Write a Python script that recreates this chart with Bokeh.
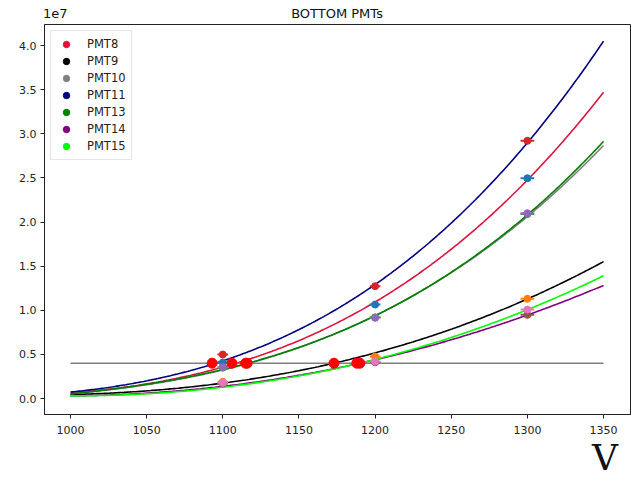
import numpy as np
from bokeh.plotting import figure
from bokeh.models import (Legend, LegendItem, FixedTicker, Range1d, LinearAxis,
                          PrintfTickFormatter)
from bokeh.embed import file_html
from bokeh.resources import INLINE

# ---------------- data (gain in units of 1e7) ----------------
pmt_names = ["PMT8", "PMT9", "PMT10", "PMT11", "PMT13", "PMT14", "PMT15"]
curve_colors = ["crimson", "black", "gray", "navy", "green", "purple", "lime"]
point_colors = ["#1f77b4", "#ff7f0e", "#2ca02c", "#d62728", "#9467bd", "#8c564b", "#e377c2"]

# measured points (errorbars)
meas_voltage = [1100, 1200, 1300]
meas_xerr = [3.5, 3.5, 4.5]
meas_pmt8 = [0.408, 1.065, 2.496]
meas_pmt9 = [0.190, 0.476, 1.130]
meas_pmt10 = [0.350, 0.920, 2.090]
meas_pmt11 = [0.499, 1.273, 2.920]
meas_pmt13 = [0.355, 0.914, 2.100]
meas_pmt14 = [0.170, 0.410, 0.948]
meas_pmt15 = [0.178, 0.419, 1.008]

# fitted gain curves, read at these voltages
fit_voltage = [1000, 1100, 1200, 1300, 1350]
fit_pmt8 = [0.06, 0.37, 1.07, 2.50, 3.46]
fit_pmt9 = [0.045, 0.176, 0.515, 1.13, 1.55]
fit_pmt10 = [0.05, 0.34, 0.91, 2.09, 2.855]
fit_pmt11 = [0.07, 0.44, 1.27, 2.92, 4.04]
fit_pmt13 = [0.05, 0.34, 0.92, 2.10, 2.905]
fit_pmt14 = [0.03, 0.14, 0.435, 0.95, 1.28]
fit_pmt15 = [0.03, 0.13, 0.44, 1.01, 1.39]

# target gain (4e6) and operating voltages where each curve reaches it
target_gain = 0.4
crossing_voltage = [1106, 1173, 1116, 1093, 1115, 1190, 1188]

x_ticks = [1000, 1050, 1100, 1150, 1200, 1250, 1300, 1350]
y_ticks = [0.0, 0.5, 1.0, 1.5, 2.0, 2.5, 3.0, 3.5, 4.0]
title_text = "BOTTOM PMTs"
scale_text = "1e7"
xlabel_text = "V"

meas_all = [meas_pmt8, meas_pmt9, meas_pmt10, meas_pmt11, meas_pmt13, meas_pmt14, meas_pmt15]
fit_all = [fit_pmt8, fit_pmt9, fit_pmt10, fit_pmt11, fit_pmt13, fit_pmt14, fit_pmt15]

# ---------------- figure ----------------
p = figure(width=631, height=480, output_backend="svg", toolbar_location=None,
           x_range=Range1d(982.93, 1367.7), y_range=Range1d(-0.181, 4.238),
           min_border_left=44, min_border_right=1, min_border_top=24,
           min_border_bottom=66)
p.background_fill_color = "white"
p.border_fill_color = "white"
p.grid.visible = False
p.outline_line_color = "#222222"
p.outline_line_width = 1

for ax in (p.xaxis[0], p.yaxis[0]):
    ax.axis_line_color = "#222222"
    ax.major_tick_line_color = "#222222"
    ax.major_tick_out = 4
    ax.major_tick_in = 0
    ax.minor_tick_line_color = None
    ax.major_label_text_font = "DejaVu Sans"
    ax.major_label_text_font_size = "11px"
    ax.major_label_text_color = "#222222"
p.xaxis.ticker = FixedTicker(ticks=x_ticks)
p.yaxis.ticker = FixedTicker(ticks=y_ticks)
p.yaxis.formatter = PrintfTickFormatter(format="%.1f")
p.xaxis.major_label_standoff = 7
p.yaxis.major_label_standoff = 4

# title row: scale factor and title as labels of a bare axis above the frame
top_axis = LinearAxis(ticker=FixedTicker(ticks=[990, 1175]),
                      major_label_overrides={990: scale_text, 1175: title_text},
                      axis_line_color=None, major_tick_line_color=None,
                      minor_tick_line_color=None, major_tick_out=0, major_tick_in=0,
                      major_label_standoff=4, major_label_text_font="DejaVu Sans",
                      major_label_text_font_size="13px", major_label_text_color="#111111")
p.add_layout(top_axis, "above")

# big "V" label below the x tick labels, at the right
v_axis = LinearAxis(ticker=FixedTicker(ticks=[1351]),
                    major_label_overrides={1351: xlabel_text},
                    axis_line_color=None, major_tick_line_color=None,
                    minor_tick_line_color=None, major_tick_out=0, major_tick_in=0,
                    major_label_standoff=0, major_label_text_font="DejaVu Serif",
                    major_label_text_font_size="36px", major_label_text_color="#111111")
p.add_layout(v_axis, "below")

# fitted curves
fv = np.array(fit_voltage, dtype=float)
vv = np.linspace(fit_voltage[0], fit_voltage[-1], 300)
for g, c in zip(fit_all, curve_colors):
    coef = np.polyfit((fv - 1000.0) / 100.0, np.array(g), 3)
    p.line(vv, np.polyval(coef, (vv - 1000.0) / 100.0), line_color=c, line_width=1.6)

# target line
p.line([fit_voltage[0], fit_voltage[-1]], [target_gain, target_gain],
       line_color="gray", line_width=1.5)

# measured points with errorbars
mv = np.array(meas_voltage, dtype=float)
xe = np.array(meas_xerr, dtype=float)
for g, c in zip(meas_all, point_colors):
    p.segment(x0=mv - xe, x1=mv + xe, y0=g, y1=g, line_color=c, line_width=2)
    p.scatter(mv, g, size=7, fill_color=c, line_color=c)

# operating points (legend markers underneath red dots)
legend_items = []
for i, (name, c) in enumerate(zip(pmt_names, curve_colors)):
    r = p.scatter([crossing_voltage[i]], [target_gain], size=7, fill_color=c, line_color=c)
    legend_items.append(LegendItem(label=name, renderers=[r]))
p.scatter(crossing_voltage, [target_gain] * len(crossing_voltage), size=10,
          fill_color="red", line_color="red")

legend = Legend(items=legend_items, location="top_left", margin=6, padding=5,
                spacing=1, glyph_height=16, glyph_width=20, label_height=16,
                label_standoff=11, label_text_font="DejaVu Sans",
                label_text_font_size="11.5px", label_text_color="#222222",
                border_line_color="#cccccc", border_line_width=1,
                background_fill_color="white", background_fill_alpha=0.85)
p.add_layout(legend)

open("out.html", "w").write(file_html(p, INLINE))
